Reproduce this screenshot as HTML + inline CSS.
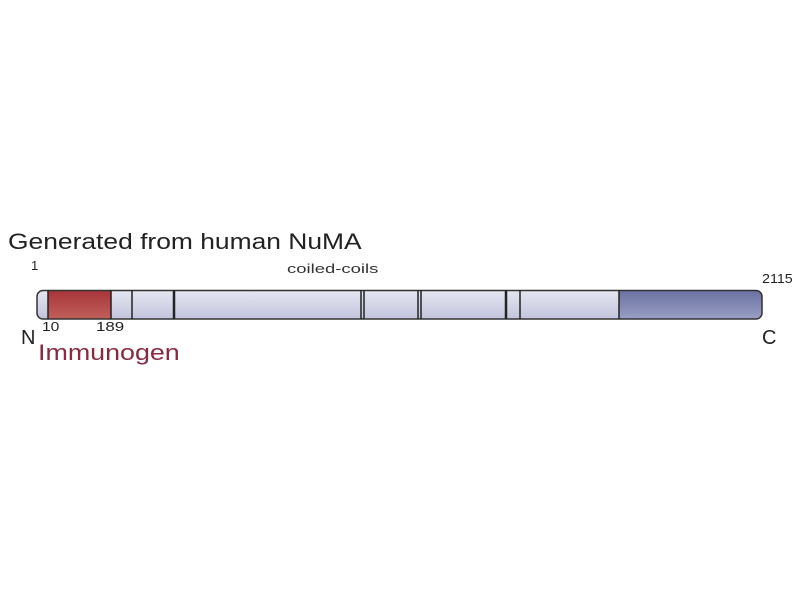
<!DOCTYPE html>
<html><head><style>
body{margin:0;width:800px;height:600px;background:#fff;position:relative;overflow:hidden;font-family:"Liberation Sans","DejaVu Sans",sans-serif;color:#222}
.t{position:absolute;white-space:nowrap;line-height:1;transform-origin:0 0}
</style></head><body>
<div class="t" style="left:8px;top:231px;font-size:22px;transform:scaleX(1.2)">Generated from human NuMA</div>
<div class="t" style="left:31px;top:259px;font-size:13px;">1</div>
<div class="t" style="left:287px;top:262px;font-size:13px;color:#333;transform:scaleX(1.42)">coiled-coils</div>
<div class="t" style="left:762px;top:272px;font-size:13px;transform:scaleX(1.1)">2115</div>
<div class="t" style="left:21px;top:328px;font-size:20px;">N</div>
<div class="t" style="left:42px;top:320px;font-size:13px;transform:scaleX(1.2)">10</div>
<div class="t" style="left:96px;top:320px;font-size:13px;transform:scaleX(1.3)">189</div>
<div class="t" style="left:38px;top:342px;font-size:22px;color:#8a2a40;transform:scaleX(1.22)">Immunogen</div>
<div class="t" style="left:762px;top:328px;font-size:20px;">C</div>
<svg width="800" height="600" style="position:absolute;left:0;top:0">
<defs>
<linearGradient id="g" x1="0" y1="0" x2="0" y2="1"><stop offset="0" stop-color="#e6e7f2"/><stop offset="1" stop-color="#c2c4dc"/></linearGradient>
<linearGradient id="b" x1="0" y1="0" x2="0" y2="1"><stop offset="0" stop-color="#6a70a0"/><stop offset="1" stop-color="#9a9fc6"/></linearGradient>
<linearGradient id="r" x1="0" y1="0" x2="0" y2="1"><stop offset="0" stop-color="#a8343a"/><stop offset="1" stop-color="#c0605a"/></linearGradient>
<clipPath id="c"><rect x="37" y="290" width="725" height="29" rx="6"/></clipPath>
</defs>
<g clip-path="url(#c)">
<rect x="37" y="290" width="725" height="29" fill="url(#g)"/>
<rect x="619" y="290" width="143" height="29" fill="url(#b)"/>
<rect x="48" y="290" width="63" height="29" fill="url(#r)"/>
</g>
<rect x="37" y="290.5" width="725" height="28.5" rx="6" fill="none" stroke="#333" stroke-width="1.5"/>
<g stroke="#222" stroke-width="1.5">
<line x1="48" y1="290" x2="48" y2="319"/><line x1="111" y1="290" x2="111" y2="319"/>
<line x1="132" y1="290" x2="132" y2="319"/><line x1="174" y1="290" x2="174" y2="319" stroke-width="2.5"/>
<line x1="361" y1="290" x2="361" y2="319"/><line x1="364" y1="290" x2="364" y2="319"/>
<line x1="418" y1="290" x2="418" y2="319"/><line x1="421" y1="290" x2="421" y2="319"/>
<line x1="506" y1="290" x2="506" y2="319" stroke-width="2.5"/><line x1="520" y1="290" x2="520" y2="319"/>
<line x1="619" y1="290" x2="619" y2="319"/>
</g>
</svg>
</body></html>
